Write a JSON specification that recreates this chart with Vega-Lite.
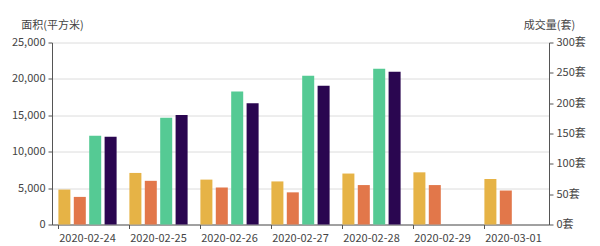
{
  "$schema": "https://vega.github.io/schema/vega-lite/v6.json",
  "autosize": {"type": "none"},
  "width": 497,
  "height": 182,
  "padding": {"left": 52, "top": 42.5, "right": 51, "bottom": 21.5},
  "background": "white",
  "config": {
    "font": "Noto Sans CJK SC",
    "view": {"stroke": null},
    "axis": {"labelFont": "Noto Sans CJK SC", "titleFont": "Noto Sans CJK SC", "labelFontSize": 11, "labelColor": "#444", "titleFontSize": 11, "titleFontWeight": "normal", "titleColor": "#444", "domainColor": "#555", "tickColor": "#555", "gridColor": "#dcdcdc"}
  },
  "data": {
    "values": [
      {"date": "2020-02-24", "series": "a", "value": 57.6, "axis": "right"},
      {"date": "2020-02-24", "series": "b", "value": 45.5, "axis": "right"},
      {"date": "2020-02-24", "series": "c", "value": 12200, "axis": "left"},
      {"date": "2020-02-24", "series": "d", "value": 12060, "axis": "left"},
      {"date": "2020-02-25", "series": "a", "value": 85, "axis": "right"},
      {"date": "2020-02-25", "series": "b", "value": 72, "axis": "right"},
      {"date": "2020-02-25", "series": "c", "value": 14670, "axis": "left"},
      {"date": "2020-02-25", "series": "d", "value": 15040, "axis": "left"},
      {"date": "2020-02-26", "series": "a", "value": 74, "axis": "right"},
      {"date": "2020-02-26", "series": "b", "value": 61, "axis": "right"},
      {"date": "2020-02-26", "series": "c", "value": 18280, "axis": "left"},
      {"date": "2020-02-26", "series": "d", "value": 16640, "axis": "left"},
      {"date": "2020-02-27", "series": "a", "value": 71, "axis": "right"},
      {"date": "2020-02-27", "series": "b", "value": 53, "axis": "right"},
      {"date": "2020-02-27", "series": "c", "value": 20430, "axis": "left"},
      {"date": "2020-02-27", "series": "d", "value": 19060, "axis": "left"},
      {"date": "2020-02-28", "series": "a", "value": 84, "axis": "right"},
      {"date": "2020-02-28", "series": "b", "value": 65, "axis": "right"},
      {"date": "2020-02-28", "series": "c", "value": 21390, "axis": "left"},
      {"date": "2020-02-28", "series": "d", "value": 20980, "axis": "left"},
      {"date": "2020-02-29", "series": "a", "value": 86, "axis": "right"},
      {"date": "2020-02-29", "series": "b", "value": 65, "axis": "right"},
      {"date": "2020-03-01", "series": "a", "value": 75, "axis": "right"},
      {"date": "2020-03-01", "series": "b", "value": 56, "axis": "right"}
    ]
  },
  "encoding": {
    "x": {
      "field": "date", "type": "nominal",
      "scale": {"paddingInner": 0.18, "paddingOuter": 0.09},
      "axis": {"title": null, "labelAngle": 0, "bandPosition": 0, "tickSize": 4, "labelPadding": 4, "grid": false}
    },
    "xOffset": {"field": "series", "type": "nominal", "scale": {"domain": ["a", "b", "c", "d"], "paddingInner": 0.22}},
    "color": {
      "field": "series", "type": "nominal", "legend": null,
      "scale": {"domain": ["a", "b", "c", "d"], "range": ["#e6b346", "#e2774a", "#55ca94", "#2a0650"]}
    }
  },
  "layer": [
    {
      "transform": [{"filter": "datum.axis === 'left'"}],
      "mark": {"type": "bar"},
      "encoding": {
        "y": {
          "field": "value", "type": "quantitative",
          "scale": {"domain": [0, 25000], "nice": false},
          "axis": {"orient": "left", "values": [0, 5000, 10000, 15000, 20000, 25000], "labelExpr": "format(datum.value, ',')", "tickSize": 4, "labelPadding": 3, "title": "面积(平方米)", "titleAngle": 0, "titleX": 0, "titleY": -17, "titleAlign": "center", "titleBaseline": "middle"}
        }
      }
    },
    {
      "transform": [{"filter": "datum.axis === 'right'"}],
      "mark": {"type": "bar"},
      "encoding": {
        "y": {
          "field": "value", "type": "quantitative",
          "scale": {"domain": [0, 300], "nice": false},
          "axis": {"orient": "right", "values": [0, 50, 100, 150, 200, 250, 300], "labelExpr": "datum.value + '套'", "tickSize": 4, "labelPadding": 3, "title": "成交量(套)", "titleAngle": 0, "titleX": 0, "titleY": -17, "titleAlign": "center", "titleBaseline": "middle"}
        }
      }
    }
  ],
  "resolve": {"scale": {"y": "independent"}}
}
